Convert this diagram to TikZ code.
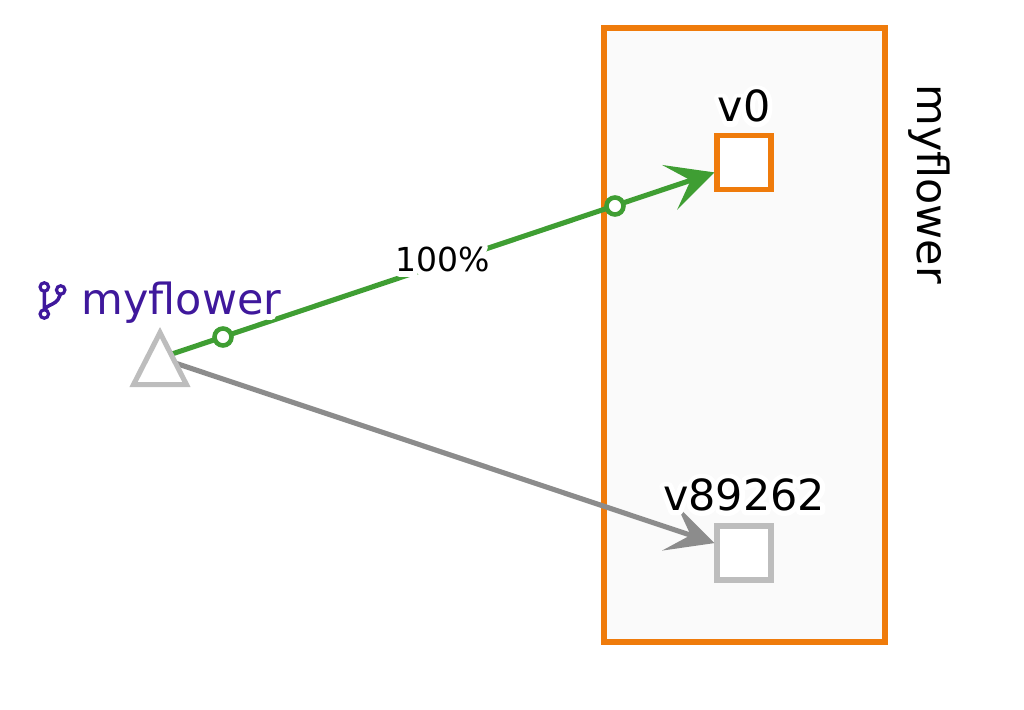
\documentclass[tikz,border=0pt]{standalone}
\usepackage{fontspec}
\setmainfont{DejaVu Sans}
\usetikzlibrary{arrows.meta,shapes.geometric}
\newcommand{\halo}[1]{\leavevmode\rlap{\special{pdf:code q 1 Tr 1 1 1 RG 2.8 w 1 j}#1\special{pdf:code Q}}#1}
\definecolor{flowerorange}{HTML}{EF7B0B}
\definecolor{flowergreen}{HTML}{3F9E33}
\definecolor{flowergray}{HTML}{8C8C8C}
\definecolor{flowersilver}{HTML}{BDBDBD}
\definecolor{flowerpurple}{HTML}{3F189C}
\definecolor{flowerpanel}{HTML}{FAFAFA}
\tikzset{
    version/.style={draw=#1, fill=white, line width=1.5pt, minimum size=0.54cm, inner sep=0pt},
    route/.style={draw=#1, line width=1.45pt, -{Stealth[length=0.47cm, width=0.47cm, inset=0.22cm]}},
    ringdot/.style={circle, draw=flowergreen, fill=white, line width=1.3pt, minimum size=0.17cm, inner sep=0pt},
    branchdot/.style={circle, draw=flowerpurple, fill=white, line width=0.9pt, minimum size=0.085cm, inner sep=0pt},
    vlabel/.style={font=\fontsize{12.2}{14}\selectfont, anchor=base, inner sep=0pt},
    weight/.style={font=\fontsize{9.4}{11}\selectfont, anchor=base, inner sep=0pt}
}
\begin{document}
\begin{tikzpicture}
    \useasboundingbox (0,0) rectangle (10.24,7.10);

    % Service panel
    \node[draw=flowerorange, fill=flowerpanel, line width=1.6pt, minimum width=2.81cm, minimum height=6.14cm, inner sep=0pt] (panel) at (7.445,3.75) {};
    \node[vlabel, anchor=center, rotate=-90] (panelname) at (9.29,5.26) {myflower};

    % Versions
    \node[version=flowerorange] (v0) at (7.44,5.475) {};
    \node[version=flowersilver] (v89262) at (7.44,1.57) {};

    % Connectors start behind the triangle
    \coordinate (gatewaymid) at (1.60,3.52);
    \draw[route=flowergray] (gatewaymid) -- (v89262);
    \draw[route=flowergreen] (gatewaymid) -- (v0);
    \node[ringdot] (ringa) at (2.23,3.73) {};
    \node[ringdot] (ringb) at (6.15,5.04) {};
    \node[isosceles triangle, isosceles triangle apex angle=54, isosceles triangle stretches, shape border rotate=90, draw=flowersilver, fill=white, line width=1.45pt, minimum width=0.53cm, minimum height=0.52cm, inner sep=0pt] (gateway) at (1.60,3.416) {};

    % Labels
    \node[weight] (share) at (4.425,4.38) {\halo{100\%}};
    \node[vlabel] (v0name) at (7.44,5.88) {\halo{v0}};
    \node[vlabel] (v89262name) at (7.44,1.995) {\halo{v89262}};
    \node[vlabel, anchor=base west, text=flowerpurple] (gatewayname) at (0.81,3.95) {\halo{myflower}};

    % Branch icon
    \draw[flowerpurple, line width=1pt] (0.443,4.23) -- (0.443,3.96)
        (0.607,4.20) .. controls (0.60,4.02) and (0.45,4.08) .. (0.443,3.98);
    \node[branchdot] (brancha) at (0.443,4.23) {};
    \node[branchdot] (branchb) at (0.607,4.20) {};
    \node[branchdot] (branchc) at (0.443,3.96) {};
\end{tikzpicture}
\end{document}
